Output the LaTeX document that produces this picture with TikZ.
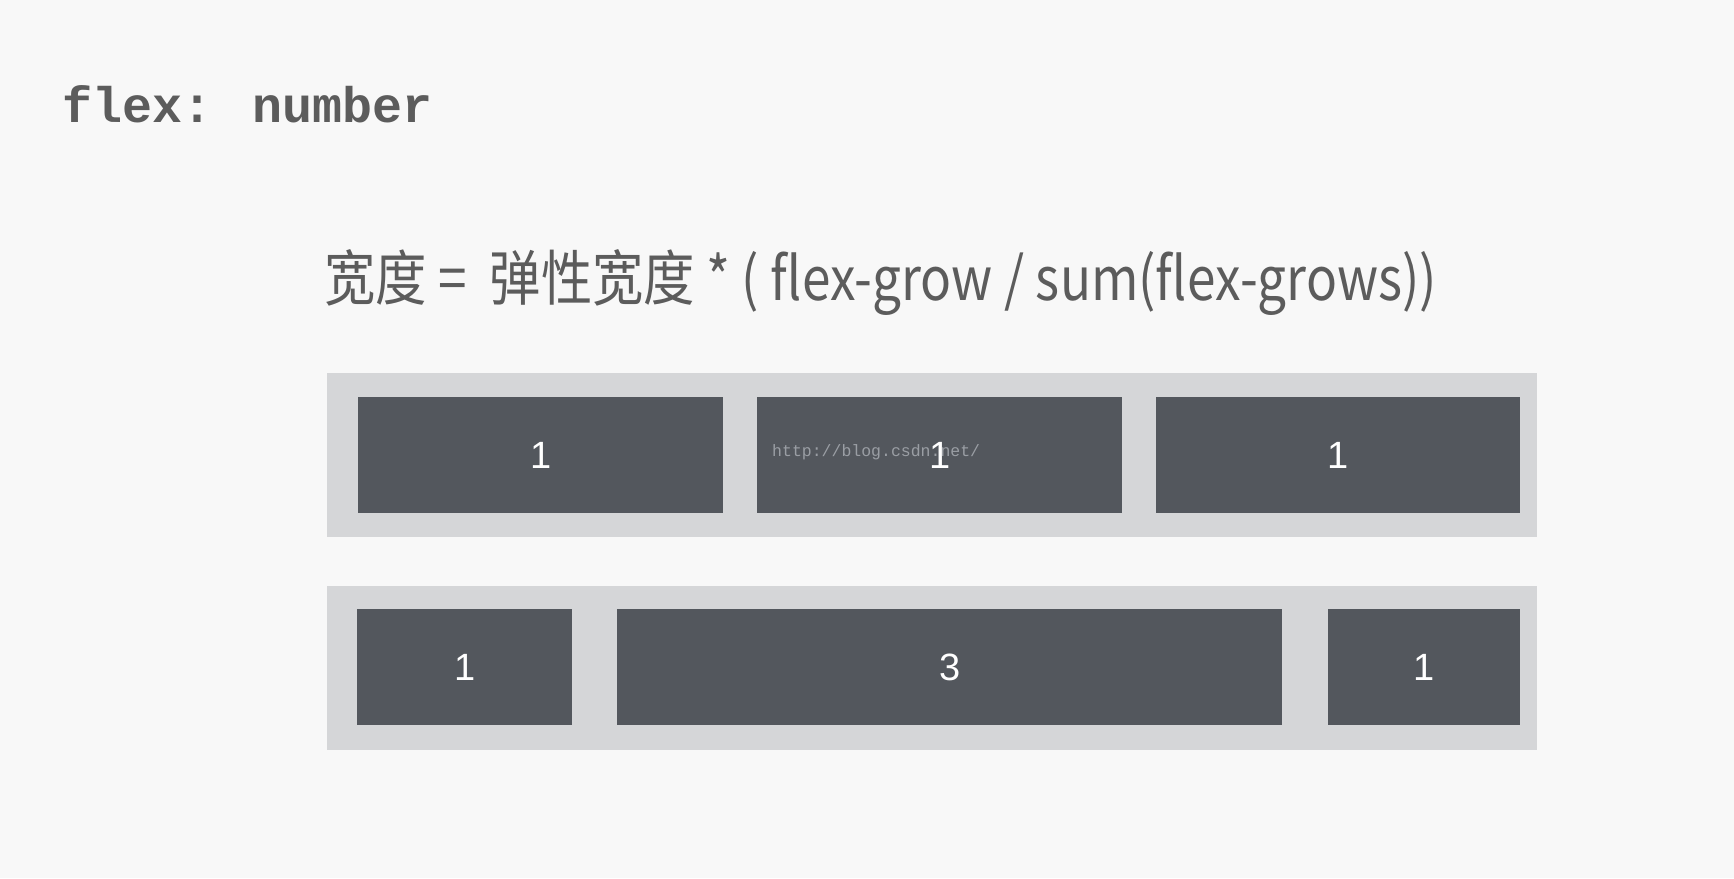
\documentclass[tikz,border=0pt]{standalone}
\usepackage{fontspec}
\setmainfont{Liberation Sans}
\newfontfamily\cjkfont[FakeStretch=0.855]{Noto Sans CJK SC}
\newfontfamily\codefont{Liberation Mono}
\usetikzlibrary{positioning}
\definecolor{pagebg}{HTML}{F8F8F8}
\definecolor{rowgray}{HTML}{D5D6D8}
\definecolor{itemgray}{HTML}{53575D}
\definecolor{textgray}{HTML}{5C5C5C}
\definecolor{markgray}{HTML}{9A9EA4}

\begin{document}
\begin{tikzpicture}[
  x=1pt, y=-1pt,
  flexrow/.style={fill=rowgray, anchor=north west, inner sep=0pt,
    minimum width=1210pt, minimum height=164pt},
  flexitem/.style={fill=itemgray, text=white, inner sep=0pt,
    minimum height=116pt, font=\fontsize{38}{42}\selectfont},
]
  % Page
  \useasboundingbox (0,0) rectangle (1734,878);
  \fill[pagebg] (0,0) rectangle (1734,878);

  % Heading and formula
  \node[anchor=base west, inner sep=0pt, text=textgray,
    font=\codefont\bfseries\fontsize{50}{54}\selectfont] (title) at (62,122)
    {flex: number};
  \node[anchor=base west, inner sep=0pt, text=textgray,
    font=\cjkfont\fontsize{60}{66}\selectfont] (formula) at (324,300)
    {宽度 =\ \ 弹性宽度 * ( flex-grow / sum(flex-grows))};

  % Rows
  \node[flexrow] (rowa) at (327,373) {};
  \node[flexrow] (rowb) at (327,586) {};

  % Equal grow
  \node[flexitem, minimum width=365pt, anchor=north west] (a1) at (358,397) {1};
  \node[flexitem, minimum width=365pt, anchor=north west] (a2) at (757,397) {1};
  \node[flexitem, minimum width=364pt, anchor=north west] (a3) at (1156,397) {1};

  % Uneven grow
  \node[flexitem, minimum width=215pt, anchor=north west] (b1) at (357,609) {1};
  \node[flexitem, minimum width=665pt, anchor=north west] (b2) at (617,609) {3};
  \node[flexitem, minimum width=192pt, anchor=north west] (b3) at (1328,609) {1};

  % Watermark
  \node[anchor=base west, inner sep=0pt, text=markgray,
    font=\codefont\fontsize{16.5}{18}\selectfont] (mark) at (772,456)
    {http://blog.csdn.net/};
\end{tikzpicture}
\end{document}
